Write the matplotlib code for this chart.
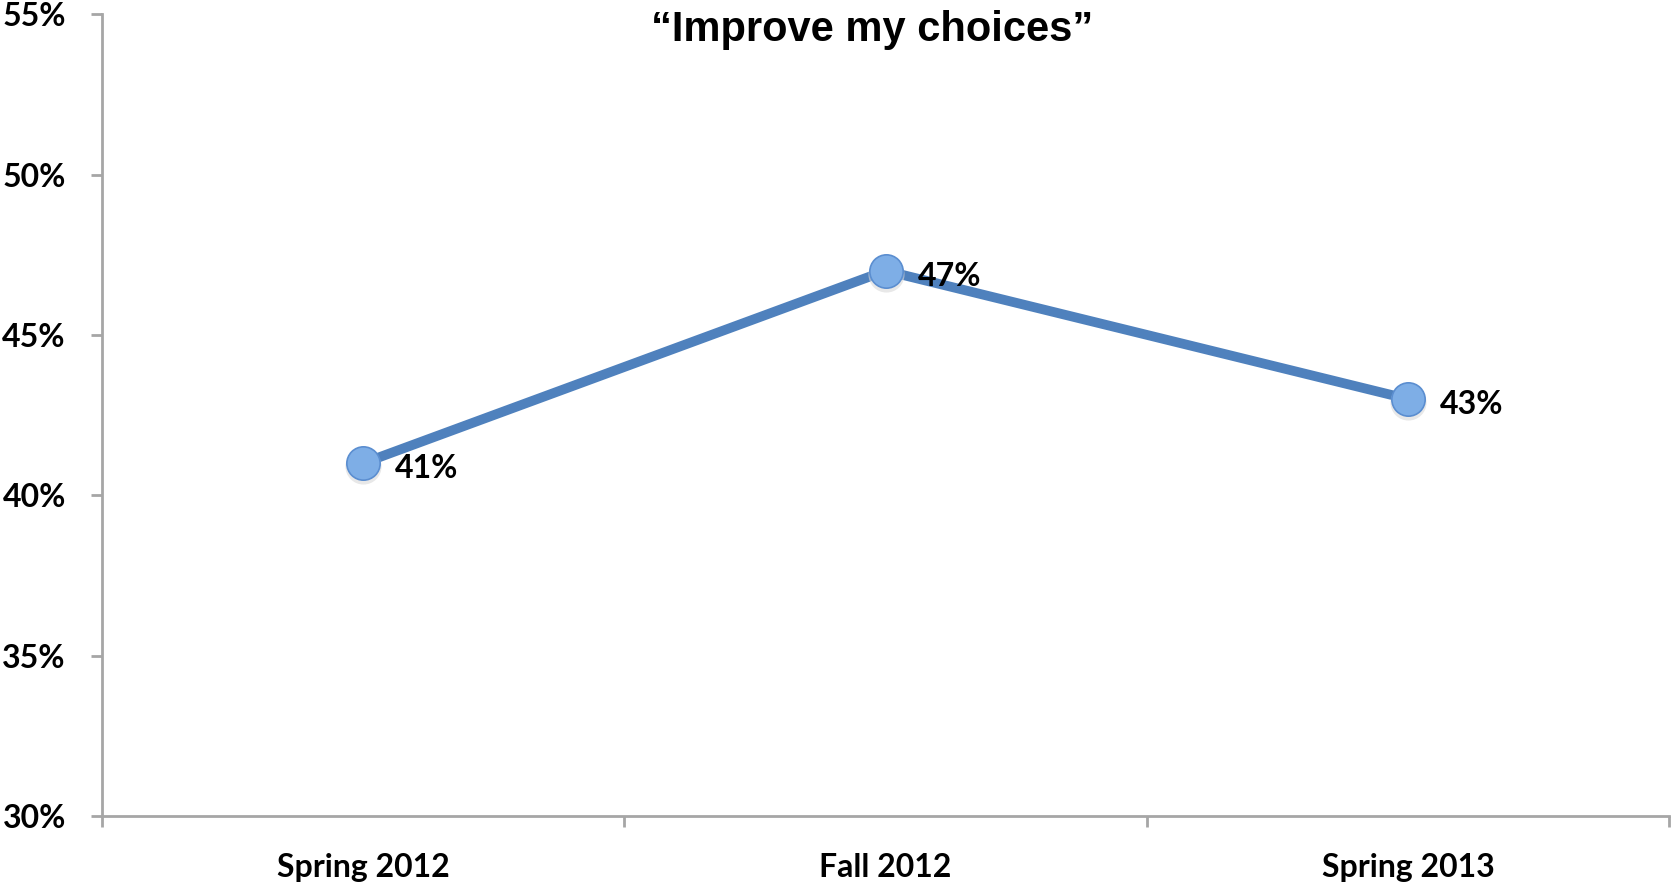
import matplotlib
matplotlib.use("Agg")
from matplotlib import pyplot as plt
from matplotlib.ticker import FixedLocator
from matplotlib.transforms import ScaledTranslation

# ------------------- Chart data ----------------------
TERMS = ["Spring 2012", "Fall 2012", "Spring 2013"]
SHARE = [41, 47, 43]  # percent answering "Improve my choices"
Y_TICKS = [30, 35, 40, 45, 50, 55]
TITLE = "\u201cImprove my choices\u201d"

LINE_COLOR = "#4F81BD"
MARKER_FACE = "#7EAEE6"
MARKER_EDGE = "#5B8ED0"
AXIS_GRAY = "#A6A6A6"
LABEL_FONT = "Lato"
LABEL_SIZE = 23

fig = plt.figure(figsize=(16.71, 8.85), dpi=100)
ax = fig.add_axes([0.061, 0.078, 0.938, 0.906])

x = list(range(len(TERMS)))
ax.plot(x, SHARE, color=LINE_COLOR, linewidth=7, solid_capstyle="round", zorder=2)
# soft shadow under the markers
ax.plot(x, SHARE, linestyle="none", marker="o", markersize=26,
        markerfacecolor="#D9D9D9", markeredgecolor="none", alpha=0.6,
        transform=ax.transData + ScaledTranslation(0, -3 / 100, fig.dpi_scale_trans),
        zorder=2.5)
ax.plot(x, SHARE, linestyle="none", marker="o", markersize=24,
        markerfacecolor=MARKER_FACE, markeredgecolor=MARKER_EDGE,
        markeredgewidth=1.2, zorder=3)

for xi, val in zip(x, SHARE):
    ax.annotate(f"{val}%", (xi, val), xytext=(23, -4), textcoords="offset points",
                ha="left", va="center", fontsize=LABEL_SIZE, fontweight="bold",
                family=LABEL_FONT, color="black", zorder=4)

ax.set_xlim(-0.5, len(TERMS) - 0.5)
ax.set_ylim(Y_TICKS[0], Y_TICKS[-1])

ax.set_xticks(x)
ax.set_xticklabels(TERMS, fontsize=LABEL_SIZE, fontweight="bold", family=LABEL_FONT)
ax.xaxis.set_minor_locator(FixedLocator([i - 0.5 for i in range(len(TERMS) + 1)]))
ax.tick_params(axis="x", which="major", length=0, pad=27)
ax.tick_params(axis="x", which="minor", length=8, width=2, color=AXIS_GRAY)

ax.set_yticks(Y_TICKS)
ax.set_yticklabels([f"{v}%" for v in Y_TICKS], fontsize=LABEL_SIZE, fontweight="bold",
                   family=LABEL_FONT)
ax.tick_params(axis="y", length=8, width=2, color=AXIS_GRAY, pad=18)

for side in ["top", "right"]:
    ax.spines[side].set_visible(False)
for side in ["left", "bottom"]:
    ax.spines[side].set_color(AXIS_GRAY)
    ax.spines[side].set_linewidth(2)

fig.text(0.522, 0.966, TITLE, ha="center", va="center", fontsize=30,
         fontweight="bold", family="Liberation Sans")

fig.savefig("out.png", dpi=100)
